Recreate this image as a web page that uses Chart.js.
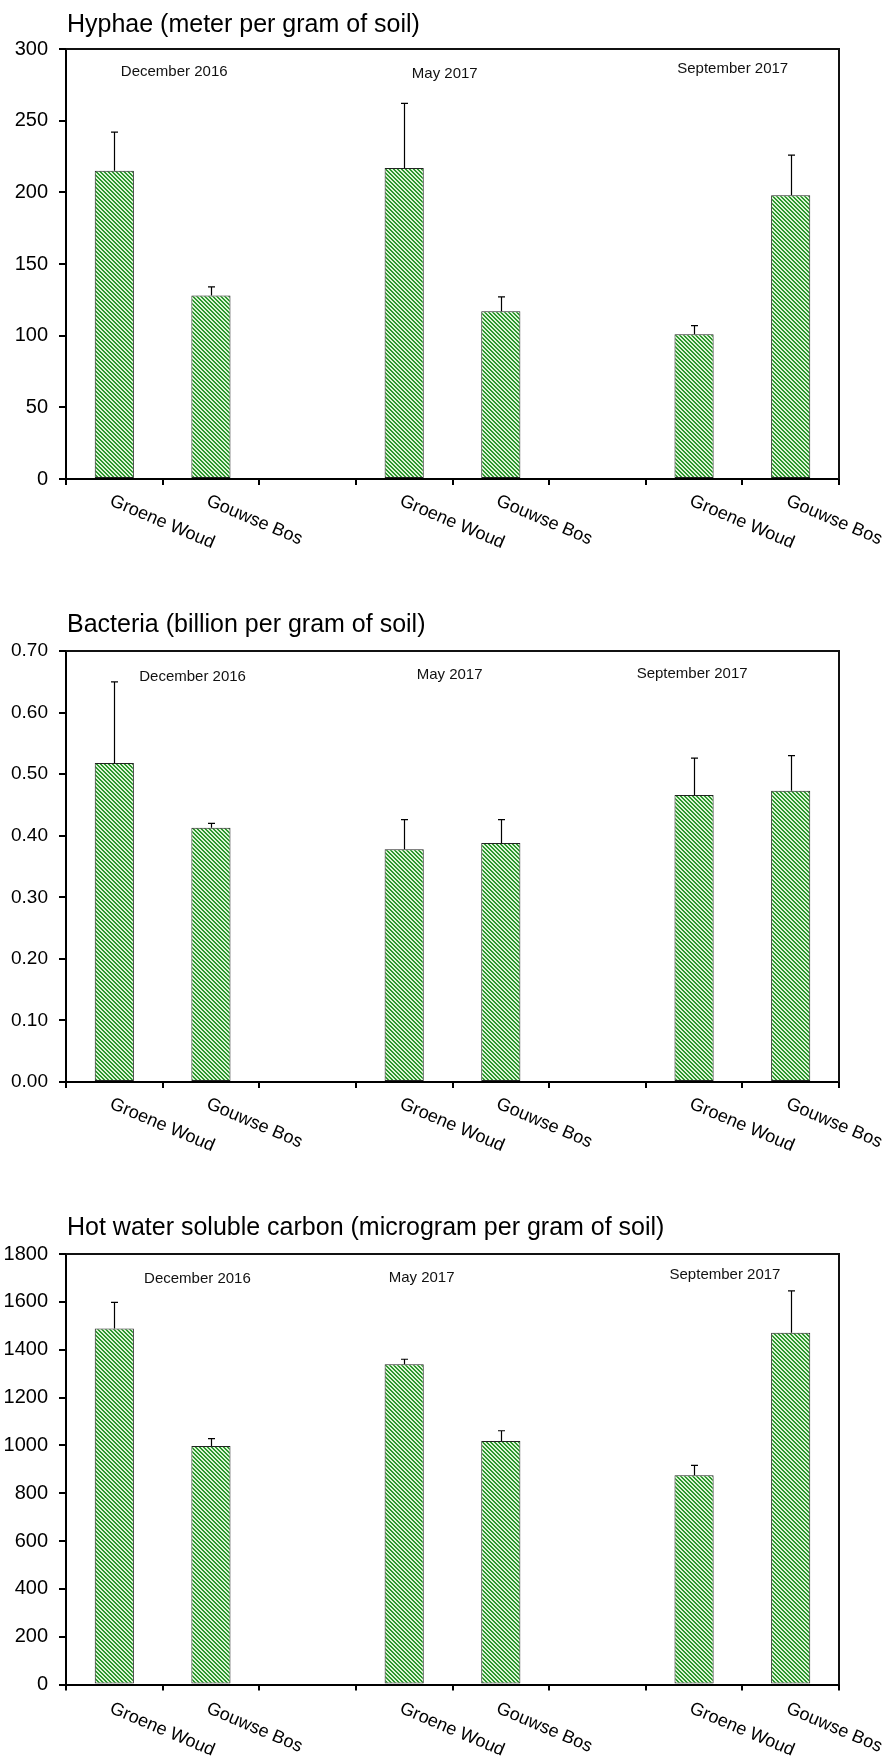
<!DOCTYPE html>
<html>
<head>
<meta charset="utf-8">
<script src="https://cdn.jsdelivr.net/npm/chart.js@4.4.1/dist/chart.umd.min.js"></script>
<style>
  html, body { margin: 0; padding: 0; background: #fff; }
  body { width: 889px; height: 1759px; position: relative; overflow: hidden; }
  canvas { position: absolute; left: 0; }
</style>
</head>
<body>
<canvas id="hyphae" width="889" height="600" style="top:0px"></canvas>
<canvas id="bacteria" width="889" height="600" style="top:600px"></canvas>
<canvas id="carbon" width="889" height="559" style="top:1200px"></canvas>
<script>
// Sites sampled per campaign; empty slots separate the three campaigns
const sites = ['Groene Woud', 'Gouwse Bos', '', 'Groene Woud', 'Gouwse Bos', '', 'Groene Woud', 'Gouwse Bos'];
const months = ['December 2016', 'May 2017', 'September 2017'];

// Hyphae (m / g soil): means and upper error (SD)
const hyphaeValues = [215, 128, null, 217, 117, null, 101, 198];
const hyphaeErrors = [27, 6, null, 45, 10, null, 6, 28];
const hyphaeTicks = ['0', '50', '100', '150', '200', '250', '300'];

// Bacteria (10^9 / g soil)
const bacteriaValues = [0.518, 0.413, null, 0.378, 0.388, null, 0.466, 0.473];
const bacteriaErrors = [0.132, 0.007, null, 0.048, 0.038, null, 0.060, 0.057];
const bacteriaTicks = ['0.00', '0.10', '0.20', '0.30', '0.40', '0.50', '0.60', '0.70'];

// Hot water soluble carbon (µg / g soil)
const carbonValues = [1489, 997, null, 1339, 1018, null, 875, 1471];
const carbonErrors = [109, 31, null, 21, 43, null, 41, 175];
const carbonTicks = ['0', '200', '400', '600', '800', '1000', '1200', '1400', '1600', '1800'];

const FONT = "'Liberation Sans', Arial, Helvetica, sans-serif";
Chart.defaults.font.family = FONT;
Chart.defaults.color = '#000';

// Fine green diagonal hatching used as bar fill
function hatchPattern() {
  const c = document.createElement('canvas');
  c.width = 4; c.height = 4;
  const g = c.getContext('2d');
  g.fillStyle = '#dcf5d6';
  g.fillRect(0, 0, 4, 4);
  g.fillStyle = '#2c972d';
  for (let y = 0; y < 4; y++) {
    for (let x = 0; x < 4; x++) {
      if ((((x - y) % 4) + 4) % 4 < 2) g.fillRect(x, y, 1, 1);
    }
  }
  return g.createPattern(c, 'repeat');
}

// Draws the frame, error bars, title, campaign names and slanted site labels
function overlay(cfg) {
  return {
    id: 'overlay',
    afterDraw(chart) {
      const { ctx, chartArea: a, scales: { x, y } } = chart;
      ctx.save();

      // error bars (upper half only)
      ctx.strokeStyle = '#000';
      ctx.lineWidth = 1.2;
      cfg.values.forEach((v, i) => {
        const e = cfg.errors[i];
        if (v == null || e == null) return;
        const xp = Math.round(x.getPixelForValue(i)) + 0.5;
        const y0 = y.getPixelForValue(v);
        const y1 = y.getPixelForValue(v + e);
        ctx.beginPath();
        ctx.moveTo(xp, y0);
        ctx.lineTo(xp, y1);
        ctx.moveTo(xp - 3.5, y1);
        ctx.lineTo(xp + 3.5, y1);
        ctx.stroke();
      });

      // top and right frame lines
      ctx.strokeStyle = '#111';
      ctx.lineWidth = 2;
      ctx.beginPath();
      ctx.moveTo(a.left, a.top);
      ctx.lineTo(a.right, a.top);
      ctx.lineTo(a.right, a.bottom);
      ctx.stroke();

      // title
      ctx.fillStyle = '#000';
      ctx.font = '25px ' + FONT;
      ctx.textAlign = 'left';
      ctx.textBaseline = 'alphabetic';
      ctx.fillText(cfg.title, 67, a.top - cfg.titleGap);

      // campaign names inside the plot
      ctx.font = '15px ' + FONT;
      ctx.fillStyle = '#111';
      ctx.textAlign = 'center';
      ctx.textBaseline = 'middle';
      months.forEach((m, k) => {
        const p = cfg.monthPos[k];
        ctx.fillText(m, x.getPixelForValue(p[0]), y.getPixelForValue(p[1]));
      });

      // slanted site labels under the axis
      ctx.font = '18px ' + FONT;
      ctx.fillStyle = '#000';
      ctx.textAlign = 'left';
      ctx.textBaseline = 'top';
      sites.forEach((s, i) => {
        if (!s) return;
        ctx.save();
        ctx.translate(x.getPixelForValue(i), a.bottom + cfg.labelGap);
        ctx.rotate(23 * Math.PI / 180);
        ctx.fillText(s, 0, 0);
        ctx.restore();
      });

      ctx.restore();
    }
  };
}

function build(id, cfg) {
  new Chart(document.getElementById(id), {
    type: 'bar',
    data: {
      labels: sites,
      datasets: [{
        data: cfg.values,
        backgroundColor: hatchPattern(),
        borderColor: '#222',
        borderWidth: 1,
        borderSkipped: false,
        categoryPercentage: 1,
        barPercentage: 0.405
      }]
    },
    options: {
      responsive: false,
      animation: false,
      events: [],
      layout: { padding: { top: cfg.top, right: 50, left: 0, bottom: 0 } },
      plugins: { legend: { display: false }, tooltip: { enabled: false }, title: { display: false } },
      scales: {
        x: {
          offset: true,
          grid: { offset: true, drawOnChartArea: false, drawTicks: true, tickLength: 6, lineWidth: 2, color: '#000' },
          border: { display: true, color: '#000', width: 2 },
          ticks: { display: false },
          afterFit(s) { s.height = cfg.bottomSpace; }
        },
        y: {
          min: 0,
          max: cfg.max,
          ticks: {
            stepSize: cfg.step,
            padding: 11,
            color: '#000',
            font: { size: cfg.tickSize },
            callback: (v, i) => cfg.ticks[i]
          },
          grid: { drawOnChartArea: false, tickLength: 7, lineWidth: 2, color: '#000' },
          border: { display: true, color: '#000', width: 2 },
          afterFit(s) { s.width = 66; }
        }
      }
    },
    plugins: [overlay(cfg)]
  });
}

build('hyphae', {
  title: 'Hyphae (meter per gram of soil)',
  values: hyphaeValues, errors: hyphaeErrors, ticks: hyphaeTicks,
  max: 300, step: 50, tickSize: 20,
  top: 49, bottomSpace: 121, titleGap: 17, labelGap: 13,
  monthPos: [[0.62, 284], [3.42, 283], [6.40, 286]]
});

build('bacteria', {
  title: 'Bacteria (billion per gram of soil)',
  values: bacteriaValues, errors: bacteriaErrors, ticks: bacteriaTicks,
  max: 0.7, step: 0.1, tickSize: 19,
  top: 51, bottomSpace: 118, titleGap: 19, labelGap: 13,
  monthPos: [[0.81, 0.658], [3.47, 0.661], [5.98, 0.663]]
});

build('carbon', {
  title: 'Hot water soluble carbon (microgram per gram of soil)',
  values: carbonValues, errors: carbonErrors, ticks: carbonTicks,
  max: 1800, step: 200, tickSize: 20,
  top: 54, bottomSpace: 74.5, titleGap: 19, labelGap: 15,
  monthPos: [[0.86, 1698], [3.18, 1702], [6.32, 1712]]
});
</script>
</body>
</html>
